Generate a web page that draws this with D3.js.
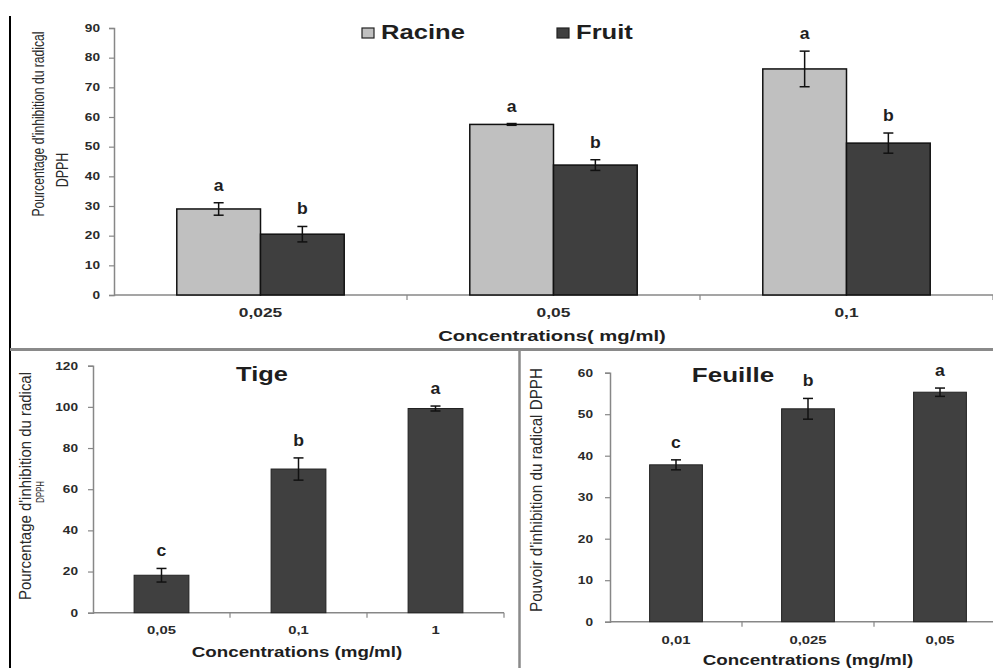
<!DOCTYPE html>
<html>
<head>
<meta charset="utf-8">
<script src="https://cdn.jsdelivr.net/npm/d3@7"></script>
<style>
  html, body { margin:0; padding:0; background:#fff; }
  svg { display:block; font-family: Arial, "Liberation Sans", sans-serif; }
</style>
</head>
<body>
<svg id="chart" width="993" height="668"></svg>
<script>
// Données
const topCategories = ['0,025', '0,05', '0,1'];
const racineValues = [29.0, 57.5, 76.2];
const racineErrors = [2.1, 0.3, 6.0];
const racineLetters = ['a', 'a', 'a'];
const fruitValues = [20.5, 43.8, 51.2];
const fruitErrors = [2.6, 1.8, 3.4];
const fruitLetters = ['b', 'b', 'b'];
const topTicks = [0, 10, 20, 30, 40, 50, 60, 70, 80, 90];

const tigeCategories = ['0,05', '0,1', '1'];
const tigeValues = [18.2, 69.8, 99.2];
const tigeErrors = [3.3, 5.4, 1.2];
const tigeLetters = ['c', 'b', 'a'];
const tigeTicks = [0, 20, 40, 60, 80, 100, 120];

const feuilleCategories = ['0,01', '0,025', '0,05'];
const feuilleValues = [37.8, 51.3, 55.3];
const feuilleErrors = [1.2, 2.5, 1.0];
const feuilleLetters = ['c', 'b', 'a'];
const feuilleTicks = [0, 10, 20, 30, 40, 50, 60];

const svg = d3.select('#chart');
const AXIS = '#878787';
const INK = '#1e1e1e';

// texte étiré horizontalement (la figure source est élargie)
function stretchText(g, x, y, str, opt){
  return g.append('text')
    .attr('transform', `translate(${x},${y}) scale(${opt.sx || 1},1)`)
    .attr('text-anchor', opt.anchor || 'middle')
    .style('font-size', opt.size + 'px')
    .style('font-weight', opt.weight || 'bold')
    .attr('fill', opt.fill || INK)
    .text(str);
}

// titre vertical (même étirement horizontal)
function vText(g, x, y, str, size, len){
  const t = g.append('text')
    .attr('transform', `translate(${x},${y}) scale(1.3,1) rotate(-90)`)
    .attr('text-anchor', 'middle').style('font-size', size + 'px').attr('fill', '#2a2a2a')
    .text(str);
  if(len) t.attr('textLength', len).attr('lengthAdjust', 'spacingAndGlyphs');
  return t;
}

function drawPanel(cfg){
  const g = svg.append('g');
  const y = d3.scaleLinear().domain([0, d3.max(cfg.ticks)]).range([cfg.yBottom, cfg.yTop]);
  const x = d3.scaleBand().domain(cfg.categories).range([cfg.x0, cfg.x1]).padding(0);
  // largeur d'intervalle 150 %
  const xs = d3.scaleBand().domain(cfg.series.map(s => s.name))
    .range([0, x.bandwidth()]).paddingInner(0).paddingOuter(0.75);

  // axe Y
  const yAxis = d3.axisLeft(y).tickValues(cfg.ticks).tickSize(5).tickPadding(0);
  const ya = g.append('g').attr('transform', `translate(${cfg.x0},0)`).call(yAxis);
  ya.select('.domain').attr('stroke', AXIS).attr('stroke-width', 1.5);
  ya.selectAll('.tick line').attr('stroke', AXIS).attr('stroke-width', 1.2);
  ya.selectAll('.tick text').remove();
  cfg.ticks.forEach(t => {
    stretchText(g, cfg.x0 - cfg.labelGap, y(t) + 3.8, t, {size: 10.5, sx: 1.3, anchor: 'end', fill: '#2a2a2a'});
  });

  // axe X
  g.append('line')
    .attr('x1', cfg.x0).attr('x2', cfg.x1)
    .attr('y1', cfg.yBottom).attr('y2', cfg.yBottom)
    .attr('stroke', AXIS).attr('stroke-width', 1.5);
  cfg.categories.forEach((c, i) => {
    const bx = x(c) + x.step();
    g.append('line')
      .attr('x1', bx).attr('x2', bx)
      .attr('y1', cfg.yBottom).attr('y2', cfg.yBottom + 5)
      .attr('stroke', AXIS).attr('stroke-width', 1.2);
    stretchText(g, x(c) + x.bandwidth() / 2, cfg.xLabelY, c, {size: cfg.xLabelSize, sx: cfg.xLabelSx, fill: '#2a2a2a'});
  });

  // barres
  cfg.series.forEach(s => {
    const gs = g.append('g');
    gs.selectAll('rect').data(cfg.categories).join('rect')
      .attr('x', (c) => x(c) + xs(s.name))
      .attr('y', (c, i) => y(s.values[i]))
      .attr('width', xs.bandwidth())
      .attr('height', (c, i) => cfg.yBottom - y(s.values[i]))
      .attr('fill', s.fill)
      .attr('stroke', s.stroke)
      .attr('stroke-width', s.strokeWidth);

    cfg.categories.forEach((c, i) => {
      const cx = x(c) + xs(s.name) + xs.bandwidth() / 2;
      const hi = y(s.values[i] + s.errors[i]);
      const lo = y(s.values[i] - s.errors[i]);
      gs.append('line').attr('x1', cx).attr('x2', cx).attr('y1', hi).attr('y2', lo)
        .attr('stroke', '#111').attr('stroke-width', 1.5);
      [hi, lo].forEach(v => {
        gs.append('line').attr('x1', cx - 5).attr('x2', cx + 5).attr('y1', v).attr('y2', v)
          .attr('stroke', '#111').attr('stroke-width', 1.5);
      });
      stretchText(gs, cx, hi - 12, s.letters[i], {size: 16, sx: 1.1});
    });
  });
  return {x, y};
}

// ---- cadre ----
svg.append('line').attr('x1', 10).attr('x2', 10).attr('y1', 16).attr('y2', 668)
  .attr('stroke', '#000').attr('stroke-width', 2);
svg.append('line').attr('x1', 10).attr('x2', 993).attr('y1', 349.5).attr('y2', 349.5)
  .attr('stroke', '#8a8a8a').attr('stroke-width', 3);
svg.append('line').attr('x1', 519.5).attr('x2', 519.5).attr('y1', 349).attr('y2', 668)
  .attr('stroke', '#8a8a8a').attr('stroke-width', 2.5);

// ---- graphique du haut : Racine / Fruit ----
drawPanel({
  categories: topCategories,
  series: [
    {name: 'Racine', values: racineValues, errors: racineErrors, letters: racineLetters, fill: '#c0c0c0', stroke: '#111', strokeWidth: 1.5},
    {name: 'Fruit', values: fruitValues, errors: fruitErrors, letters: fruitLetters, fill: '#3f3f3f', stroke: '#111', strokeWidth: 1.5}
  ],
  ticks: topTicks, x0: 114, x1: 993, yBottom: 295, yTop: 28,
  labelGap: 14, xLabelY: 317, xLabelSize: 12, xLabelSx: 1.45
});
const gTop = svg.append('g');
vText(gTop, 44, 124, "Pourcentage d'inhibition du radical", 12.5, 185);
vText(gTop, 68, 170, 'DPPH', 12.5);
stretchText(gTop, 552, 341, 'Concentrations( mg/ml)', {size: 14, sx: 1.45});
// légende
const legend = [
  {name: 'Racine', fill: '#c0c0c0', x: 362},
  {name: 'Fruit', fill: '#3f3f3f', x: 557}
];
legend.forEach(l => {
  gTop.append('rect').attr('x', l.x).attr('y', 28).attr('width', 12).attr('height', 10)
    .attr('fill', l.fill).attr('stroke', '#222').attr('stroke-width', 1.2);
  stretchText(gTop, l.x + 19, 39, l.name, {size: 20, sx: 1.28, anchor: 'start'});
});

// ---- Tige ----
drawPanel({
  categories: tigeCategories,
  series: [{name: 'Tige', values: tigeValues, errors: tigeErrors, letters: tigeLetters, fill: '#404040', stroke: '#222', strokeWidth: 1}],
  ticks: tigeTicks, x0: 93, x1: 504, yBottom: 612.7, yTop: 365.7,
  labelGap: 15, xLabelY: 634, xLabelSize: 11, xLabelSx: 1.35
});
const gTige = svg.append('g');
stretchText(gTige, 262, 381, 'Tige', {size: 20, sx: 1.27});
vText(gTige, 31, 486, "Pourcentage  d'inhibition  du radical", 12.5, 228);
vText(gTige, 44, 492, 'DPPH', 8);
stretchText(gTige, 297, 657, 'Concentrations (mg/ml)', {size: 14, sx: 1.34});

// ---- Feuille ----
drawPanel({
  categories: feuilleCategories,
  series: [{name: 'Feuille', values: feuilleValues, errors: feuilleErrors, letters: feuilleLetters, fill: '#404040', stroke: '#222', strokeWidth: 1}],
  ticks: feuilleTicks, x0: 610, x1: 1006, yBottom: 621.7, yTop: 372.7,
  labelGap: 17, xLabelY: 644, xLabelSize: 11, xLabelSx: 1.35
});
const gFeuille = svg.append('g');
stretchText(gFeuille, 733, 382, 'Feuille', {size: 20, sx: 1.3});
vText(gFeuille, 542, 490, "Pouvoir d'inhibition du radical  DPPH", 12.5, 244);
stretchText(gFeuille, 808, 665, 'Concentrations (mg/ml)', {size: 14, sx: 1.34});
</script>
</body>
</html>
